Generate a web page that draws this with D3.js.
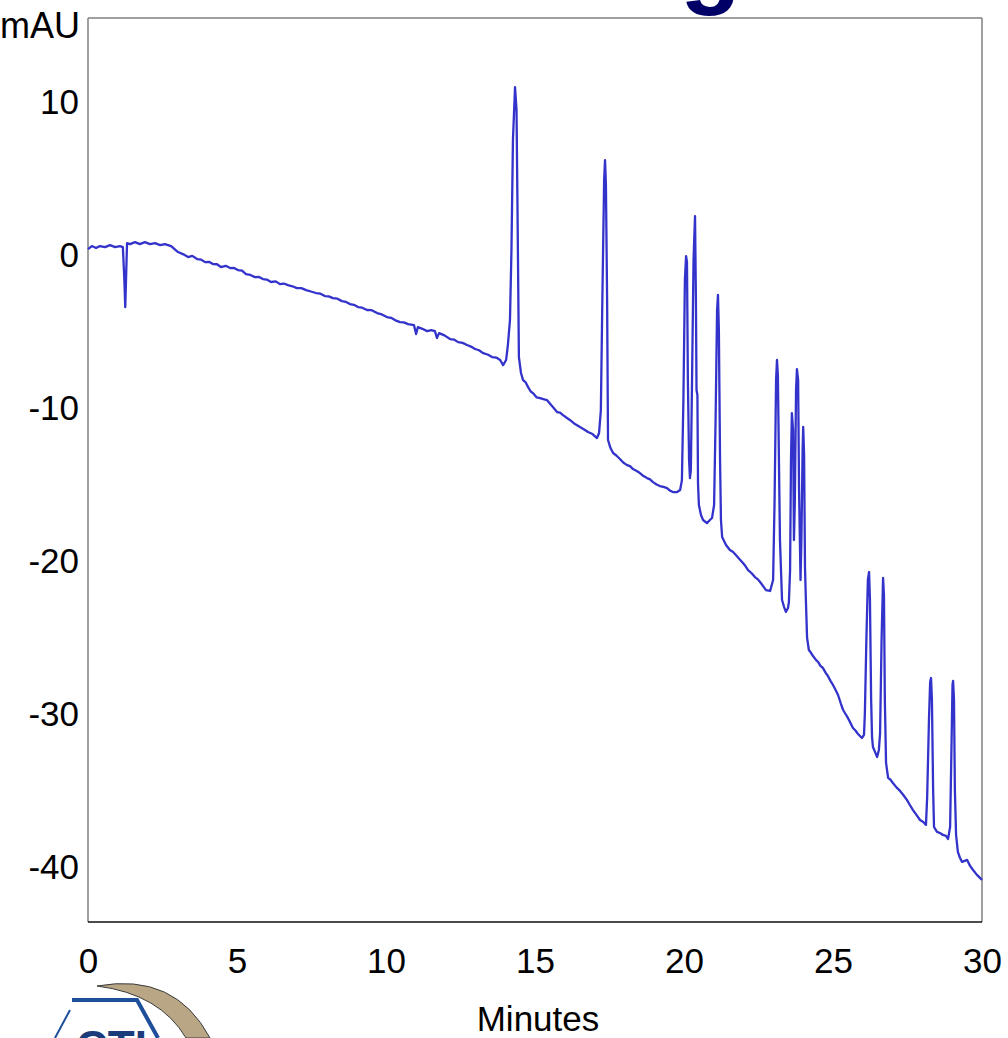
<!DOCTYPE html>
<html>
<head>
<meta charset="utf-8">
<script src="https://cdn.jsdelivr.net/npm/d3@7"></script>
<style>
  body { margin: 0; background: #fff; }
  svg { display: block; font-family: "Liberation Sans", Arial, sans-serif; }
</style>
</head>
<body>
<script>
// retention time (min) and signal (mAU)
const times = [
  0, 0.13, 0.27, 0.40, 0.57, 0.74, 0.91, 1.07, 1.17, 1.22, 1.25, 1.28, 1.31,
  1.41, 1.58, 1.74, 1.91, 2.08, 2.25, 2.42, 2.58, 2.79, 3.02, 3.20, 3.36, 3.50, 3.66, 3.80, 3.93,
  4.06, 4.19, 4.33, 4.46, 4.62, 4.77, 4.90, 5.03, 5.17, 5.30, 5.45, 5.60, 5.74, 5.87, 6.00, 6.14,
  6.30, 6.44, 6.57, 6.71, 6.86, 7.01, 7.16, 7.32, 7.48, 7.65, 7.80, 7.95, 8.08, 8.22, 8.37, 8.52,
  8.66, 8.79, 8.92, 9.06, 9.20, 9.36, 9.52, 9.70, 9.86, 10.03, 10.17, 10.30, 10.47, 10.60, 10.74,
  10.94, 11.01, 11.07, 11.22, 11.38, 11.52, 11.64, 11.71, 11.78, 11.96, 12.15, 12.28, 12.42, 12.57,
  12.72, 12.85, 12.99, 13.12, 13.26, 13.41, 13.56, 13.70, 13.83, 13.93, 14.03, 14.09, 14.16,
  14.21, 14.26, 14.33, 14.38, 14.41, 14.46, 14.53, 14.60, 14.68, 14.77, 14.85, 14.93, 15.05,
  15.17, 15.28, 15.40, 15.57, 15.74, 15.84, 15.94, 16.05, 16.17, 16.34, 16.51, 16.65, 16.78,
  16.93, 17.08, 17.15, 17.21, 17.26, 17.32, 17.35, 17.38, 17.42, 17.45, 17.53, 17.62, 17.73,
  17.85, 17.97, 18.09, 18.19, 18.29, 18.40, 18.52, 18.64, 18.76, 18.86, 18.96, 19.08, 19.19,
  19.31, 19.43, 19.53, 19.63, 19.77, 19.87, 19.93, 19.98, 20.03, 20.07, 20.10, 20.13, 20.17,
  20.20, 20.23, 20.27, 20.32, 20.37, 20.40, 20.42, 20.45, 20.47, 20.50, 20.57, 20.64, 20.77,
  20.87, 20.94, 21.01, 21.06, 21.11, 21.14, 21.17, 21.21, 21.24, 21.28, 21.41, 21.54, 21.64,
  21.74, 21.85, 21.95, 22.05, 22.15, 22.27, 22.38, 22.48, 22.58, 22.75, 22.89, 22.99, 23.04,
  23.09, 23.12, 23.15, 23.19, 23.22, 23.29, 23.36, 23.42, 23.49, 23.52, 23.56, 23.59, 23.62,
  23.66, 23.69, 23.72, 23.76, 23.79, 23.83, 23.86, 23.91, 23.94, 23.98, 24.00, 24.03, 24.06,
  24.09, 24.13, 24.19, 24.26, 24.33, 24.42, 24.50, 24.58, 24.66, 24.75, 24.83, 24.92, 25.00,
  25.08, 25.17, 25.26, 25.34, 25.42, 25.50, 25.59, 25.67, 25.76, 25.84, 25.97, 26.04, 26.07,
  26.12, 26.17, 26.21, 26.24, 26.28, 26.31, 26.34, 26.41, 26.48, 26.54, 26.58, 26.63, 26.68,
  26.71, 26.74, 26.78, 26.85, 26.93, 27.01, 27.13, 27.25, 27.36, 27.48, 27.58, 27.68, 27.80,
  27.92, 28.02, 28.12, 28.16, 28.22, 28.26, 28.29, 28.32, 28.36, 28.39, 28.49, 28.59, 28.69,
  28.79, 28.86, 28.93, 28.98, 29.01, 29.03, 29.06, 29.09, 29.13, 29.19, 29.26, 29.33, 29.42,
  29.50, 29.60, 29.70, 29.83, 30.00
];
const mau = [
  0.39, 0.59, 0.46, 0.59, 0.52, 0.65, 0.52, 0.59, 0.52, -1.63, -3.40, -1.31, 0.78,
  0.72, 0.85, 0.72, 0.85, 0.72, 0.78, 0.65, 0.72, 0.59, 0.20, 0.05, -0.13, -0.05, -0.26, -0.30, -0.46,
  -0.44, -0.59, -0.60, -0.78, -0.70, -0.85, -0.84, -0.98, -1.02, -1.24, -1.30, -1.44, -1.43, -1.57, -1.60, -1.76,
  -1.72, -1.90, -1.86, -1.96, -2.04, -2.16, -2.16, -2.29, -2.38, -2.48, -2.52, -2.68, -2.70, -2.81, -2.85, -3.01,
  -3.06, -3.20, -3.25, -3.40, -3.44, -3.59, -3.60, -3.79, -3.88, -4.05, -4.10, -4.25, -4.38, -4.40, -4.51,
  -4.58, -5.16, -4.71, -4.82, -4.97, -4.90, -4.97, -5.42, -5.10, -5.25, -5.49, -5.52, -5.69, -5.74,
  -5.88, -5.98, -6.14, -6.22, -6.41, -6.50, -6.67, -6.70, -6.86, -7.19, -6.86, -5.88, -4.25,
  0.33, 7.52, 10.98, 9.48, 3.59, -6.67, -7.71, -8.17, -8.30, -8.63, -8.90, -9.02, -9.30,
  -9.35, -9.42, -9.48, -9.87, -10.26, -10.30, -10.46, -10.62, -10.78, -11.05, -11.24, -11.40, -11.57,
  -11.70, -11.96, -11.63, -10.13, -2.94, 4.90, 6.21, 4.58, -2.94, -12.09, -12.60, -12.94, -13.10,
  -13.33, -13.58, -13.73, -13.80, -13.99, -14.10, -14.25, -14.45, -14.58, -14.66, -14.84, -15.00, -15.10,
  -15.15, -15.23, -15.40, -15.49, -15.49, -15.36, -14.71, -9.48, -1.63, -0.07, -0.46, -8.17, -13.40,
  -14.58, -14.05, -8.17, -0.33, 2.55, -2.94, -8.82, -9.15, -14.90, -16.34, -16.99, -17.32, -17.52,
  -17.32, -17.19, -16.34, -10.78, -3.59, -2.61, -4.90, -13.40, -17.32, -18.43, -18.95, -19.28, -19.40,
  -19.61, -19.85, -20.07, -20.30, -20.59, -20.80, -21.05, -21.20, -21.44, -21.90, -21.96, -21.24, -16.01,
  -8.17, -6.86, -7.84, -14.05, -18.63, -22.55, -23.01, -23.33, -23.07, -22.68, -20.59, -13.40, -10.33,
  -11.44, -18.63, -16.01, -8.82, -7.45, -8.17, -15.16, -21.24, -18.63, -12.75, -11.24, -13.07, -20.39,
  -22.55, -25.03, -25.82, -26.00, -26.21, -26.45, -26.60, -26.85, -26.99, -27.30, -27.52, -27.85, -28.10,
  -28.40, -28.76, -29.30, -29.74, -30.00, -30.26, -30.60, -30.92, -31.10, -31.31, -31.57, -31.37, -29.93,
  -25.16, -21.24, -20.72, -22.55, -29.08, -31.50, -32.16, -32.48, -32.81, -32.35, -31.24, -25.16, -21.11,
  -22.22, -29.08, -33.20, -34.18, -34.30, -34.51, -34.80, -35.03, -35.30, -35.62, -35.95, -36.27, -36.60,
  -36.93, -37.05, -37.25, -35.42, -30.39, -27.91, -27.65, -29.08, -34.97, -37.39, -37.71, -37.78, -37.91,
  -37.97, -38.17, -37.39, -31.70, -28.10, -27.84, -29.08, -34.97, -37.91, -39.02, -39.40, -39.67, -39.60,
  -39.54, -39.93, -40.20, -40.52, -40.85
];
const xTicks = [0, 5, 10, 15, 20, 25, 30];
const yTicks = [10, 0, -10, -20, -30, -40];

const width = 1008, height = 1038;
const plotLeft = 88, plotRight = 982, plotTop = 18, plotBottom = 922;

const svg = d3.select("body").append("svg")
  .attr("width", width)
  .attr("height", height);

const x = d3.scaleLinear().domain([0, 30]).range([plotLeft, plotRight]);
const y = d3.scaleLinear().domain([-43.6, 15.5]).range([plotBottom, plotTop]);

const points = times.map((t, i) => [t, mau[i]]);

// cut-off title letter above the frame
svg.append("text")
  .attr("x", 680).attr("y", -5)
  .attr("font-size", 100).attr("font-weight", "bold")
  .attr("fill", "#000066")
  .text("g");

// frame
svg.append("line").attr("x1", plotLeft).attr("y1", plotTop).attr("x2", plotRight).attr("y2", plotTop)
  .attr("stroke", "#808080").attr("stroke-width", 1.5);
svg.append("line").attr("x1", plotRight).attr("y1", plotTop).attr("x2", plotRight).attr("y2", plotBottom)
  .attr("stroke", "#808080").attr("stroke-width", 1.5);
svg.append("line").attr("x1", plotLeft).attr("y1", plotTop).attr("x2", plotLeft).attr("y2", plotBottom)
  .attr("stroke", "#808080").attr("stroke-width", 1.5);
svg.append("line").attr("x1", plotLeft).attr("y1", plotBottom).attr("x2", plotRight).attr("y2", plotBottom)
  .attr("stroke", "#111").attr("stroke-width", 1.5);

// axes, labels only (plain hyphen for negatives)
const yAxis = svg.append("g")
  .attr("transform", `translate(${plotLeft},0)`)
  .call(d3.axisLeft(y).tickValues(yTicks).tickFormat(d => String(d)).tickSize(0).tickPadding(9));
const xAxis = svg.append("g")
  .attr("transform", `translate(0,${plotBottom})`)
  .call(d3.axisBottom(x).tickValues(xTicks).tickFormat(d => String(d)).tickSize(0).tickPadding(26));
[yAxis, xAxis].forEach(a => {
  a.select(".domain").remove();
  a.selectAll("text")
    .attr("font-size", 35)
    .attr("font-family", "Liberation Sans, Arial, sans-serif")
    .attr("fill", "#000");
});

svg.append("text")
  .attr("x", 0).attr("y", 38)
  .attr("font-size", 36).attr("fill", "#000")
  .text("mAU");

svg.append("text")
  .attr("x", 538).attr("y", 1031)
  .attr("text-anchor", "middle")
  .attr("font-size", 35).attr("fill", "#000")
  .text("Minutes");

// trace
const line = d3.line()
  .x(d => x(d[0]))
  .y(d => y(d[1]));

svg.append("path")
  .datum(points)
  .attr("fill", "none")
  .attr("stroke", "#3333cc")
  .attr("stroke-width", 2.3)
  .attr("stroke-linejoin", "round")
  .attr("d", line);

// partial logo, bottom left
const logo = svg.append("g");
logo.append("path")
  .attr("d", "M97,986 Q175,972 210,1038 L186,1038 Q160,994 97,986 Z")
  .attr("fill", "#b8a684")
  .attr("stroke", "#3a3a3a").attr("stroke-width", 1);
logo.append("path")
  .attr("d", "M72,1000 L137,1000 L158,1038")
  .attr("fill", "none").attr("stroke", "#1f4e9a").attr("stroke-width", 4);
logo.append("path")
  .attr("d", "M70,1010 L55,1038")
  .attr("fill", "none").attr("stroke", "#1f4e9a").attr("stroke-width", 2);
logo.append("text")
  .attr("x", 76).attr("y", 1062)
  .attr("font-size", 44).attr("font-weight", "bold")
  .attr("fill", "#1a3c7a")
  .text("CTI");
</script>
</body>
</html>
